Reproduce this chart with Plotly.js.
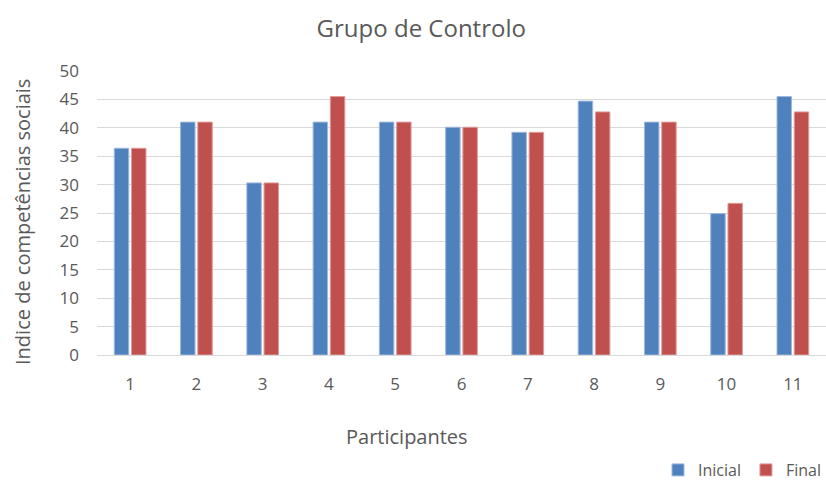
<!DOCTYPE html>
<html>
<head>
<meta charset="utf-8">
<script src="https://cdn.plot.ly/plotly-3.0.1.min.js"></script>
<style>html,body{margin:0;padding:0;background:#fff}#chart{width:826px;height:483px}</style>
</head>
<body>
<div id="chart"></div>
<script>
const participantes = ["1","2","3","4","5","6","7","8","9","10","11"];
const inicial = [36.4, 41, 30.3, 41, 41, 40.1, 39.2, 44.7, 41, 24.9, 45.5];
const final = [36.4, 41, 30.3, 45.5, 41, 40.1, 39.2, 42.8, 41, 26.7, 42.8];
const yTicks = [0,5,10,15,20,25,30,35,40,45,50];

const font = "'Open Sans', 'Noto Sans', sans-serif";
const gray = "#595959";

const traces = [
  {type:"bar", name:"Inicial", x:participantes, y:inicial,
   marker:{color:"#4F81BD", line:{color:"#9db9de", width:1}}},
  {type:"bar", name:"Final", x:participantes, y:final,
   marker:{color:"#C0504D", line:{color:"#e09c9a", width:1}}}
];

const layout = {
  width:826, height:483,
  paper_bgcolor:"#fff", plot_bgcolor:"#fff",
  margin:{l:97, r:0, t:71, b:128, autoexpand:false},
  barmode:"group", bargap:0.48, bargroupgap:0.16,
  font:{family:font, color:gray, size:17},
  title:{text:"Grupo de Controlo", x:0.51, xref:"container", xanchor:"center", y:0.94, yref:"container", yanchor:"middle",
         font:{family:font, size:24, color:gray}},
  xaxis:{type:"category", showgrid:false, showline:false, zeroline:false,
         ticks:"", ticklabelstandoff:17, tickfont:{size:17, color:gray}},
  yaxis:{range:[0,50], tickvals:yTicks, ticktext:yTicks.map(String),
         showgrid:true, gridcolor:"#d9d9d9", gridwidth:1, zeroline:true, zerolinecolor:"#d9d9d9",
         showline:false, ticks:"", ticklabelstandoff:17, tickfont:{size:17, color:gray}},
  showlegend:true,
  legend:{orientation:"h", x:1.0, xanchor:"right", y:-0.405, yanchor:"middle",
          font:{size:16, color:gray}, itemwidth:30, tracegroupgap:0, traceorder:"normal"},
  annotations:[
    {text:"Participantes", xref:"paper", yref:"paper", x:(407-97)/729, y:-0.287, xanchor:"center", yanchor:"middle",
     showarrow:false, font:{size:20, color:gray}},
    {text:"Indice de competências sociais", xref:"paper", yref:"paper", x:-0.103, y:0.468, textangle:-90,
     xanchor:"center", yanchor:"middle", showarrow:false, font:{size:20, color:gray}}
  ]
};

Plotly.newPlot("chart", traces, layout, {displayModeBar:false, staticPlot:true});
</script>
</body>
</html>
